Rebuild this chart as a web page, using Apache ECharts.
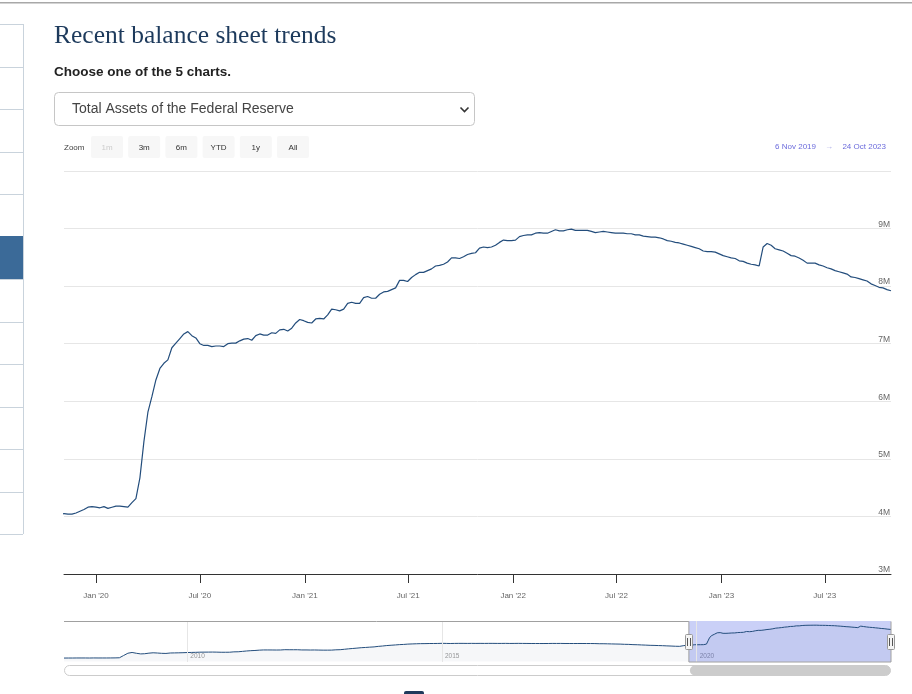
<!DOCTYPE html>
<html>
<head>
<meta charset="utf-8">
<script src="https://cdn.jsdelivr.net/npm/echarts@6/dist/echarts.min.js"></script>
<style>
html, body { margin: 0; padding: 0; background: #fff; }
#chart { width: 912px; height: 694px; }
</style>
</head>
<body>
<div id="chart"></div>
<script>
// Total assets, trillions of dollars (axis shows them as "M" of millions)
// monthly history, first of each month from Aug 2007 to Oct 2019
const historyStart = [2007, 7]
const historyValues = [
    0.87, 0.88, 0.88, 0.89, 0.89,
    0.89, 0.88, 0.90, 0.89, 0.89, 0.89, 0.90, 0.91, 0.94, 1.49, 2.06, 2.25,
    2.05, 1.89, 1.94, 2.08, 2.17, 2.11, 2.04, 2.01, 2.12, 2.14, 2.16, 2.19,
    2.23, 2.26, 2.28, 2.32, 2.33, 2.34, 2.35, 2.33, 2.30, 2.30, 2.31, 2.40,
    2.42, 2.52, 2.61, 2.69, 2.74, 2.82, 2.87, 2.87, 2.86, 2.85, 2.86, 2.93,
    2.92, 2.92, 2.92, 2.87, 2.87, 2.85, 2.86, 2.84, 2.82, 2.82, 2.83, 2.90,
    2.93, 3.04, 3.14, 3.23, 3.32, 3.42, 3.48, 3.56, 3.62, 3.75, 3.84, 3.95,
    4.03, 4.10, 4.18, 4.23, 4.31, 4.35, 4.39, 4.42, 4.43, 4.45, 4.46, 4.47,
    4.50, 4.48, 4.46, 4.48, 4.49, 4.49, 4.48, 4.49, 4.48, 4.49, 4.48, 4.49,
    4.49, 4.48, 4.48, 4.49, 4.47, 4.48, 4.49, 4.48, 4.47, 4.46, 4.46, 4.45,
    4.45, 4.46, 4.48, 4.47, 4.48, 4.46, 4.46, 4.45, 4.46, 4.46, 4.45, 4.45,
    4.44, 4.40, 4.40, 4.38, 4.35, 4.33, 4.31, 4.26, 4.24, 4.18, 4.15, 4.10,
    4.06, 4.01, 3.99, 3.95, 3.92, 3.87, 3.83, 3.78, 3.76, 3.94
]
// weekly (Wednesday) values from 6 Nov 2019
const weeklyStart = [2019, 10, 6]
const weeklyValues = [
    // 2019
    4.05, 4.04, 4.04, 4.06, 4.09, 4.12, 4.16, 4.17,
    // 2020
    4.16, 4.15, 4.17, 4.14, 4.16, 4.18, 4.18, 4.17, 4.16, 4.24, 4.31, 4.67, 5.30,
    5.81, 6.08, 6.37, 6.57, 6.66, 6.72, 6.93, 7.01, 7.09, 7.17, 7.21, 7.14, 7.10,
    7.00, 6.97, 6.97, 6.95, 6.96, 6.96, 6.95, 7.00, 7.01, 7.01, 7.05, 7.08, 7.09,
    7.06, 7.14, 7.17, 7.15, 7.15, 7.19, 7.18, 7.24, 7.25, 7.22, 7.27, 7.36, 7.42, 7.40,
    // 2021
    7.37, 7.36, 7.43, 7.44, 7.43, 7.50, 7.60, 7.59, 7.57, 7.60, 7.70, 7.72, 7.70,
    7.70, 7.80, 7.82, 7.79, 7.79, 7.86, 7.90, 7.91, 7.94, 7.97, 8.10, 8.10, 8.08,
    8.15, 8.20, 8.24, 8.24, 8.27, 8.30, 8.35, 8.36, 8.38, 8.42, 8.49, 8.49, 8.48,
    8.51, 8.55, 8.57, 8.58, 8.66, 8.68, 8.67, 8.68, 8.71, 8.76, 8.80, 8.79, 8.79,
    // 2022
    8.80, 8.86, 8.88, 8.89, 8.89, 8.92, 8.93, 8.92, 8.92, 8.95, 8.98, 8.96, 8.96,
    8.98, 8.99, 8.97, 8.97, 8.97, 8.97, 8.95, 8.93, 8.94, 8.95, 8.94, 8.93, 8.92,
    8.92, 8.92, 8.91, 8.91, 8.89, 8.89, 8.87, 8.86, 8.85, 8.85, 8.84, 8.82, 8.79,
    8.78, 8.76, 8.75, 8.73, 8.71, 8.69, 8.67, 8.65, 8.61, 8.60, 8.60, 8.59, 8.56,
    // 2023
    8.53, 8.51, 8.49, 8.48, 8.44, 8.43, 8.40, 8.38, 8.37, 8.35, 8.68, 8.74, 8.71,
    8.65, 8.63, 8.61, 8.57, 8.53, 8.52, 8.49, 8.45, 8.40, 8.40, 8.40, 8.37, 8.35,
    8.32, 8.30, 8.27, 8.25, 8.23, 8.21, 8.16, 8.15, 8.13, 8.11, 8.09, 8.04, 8.01,
    7.98, 7.97, 7.94, 7.92
]

const zoomFrom = '2019-11-06'
const zoomTo = '2023-10-25'
const tickDates = ['2020-01-01', '2020-07-01', '2021-01-01', '2021-07-01', '2022-01-01', '2022-07-01', '2023-01-01', '2023-07-01']
const tickLabels = ["Jan '20", "Jul '20", "Jan '21", "Jul '21", "Jan '22", "Jul '22", "Jan '23", "Jul '23"]
const navYearDates = ['2010-01-01', '2015-01-01', '2020-01-01']
const navYearLabels = ['2010', '2015', '2020']
const rangeButtons = ['1m', '3m', '6m', 'YTD', '1y', 'All']
const rangeText = ['6 Nov 2019', '24 Oct 2023']
const sideLines = [24, 67, 109, 152, 194, 279, 322, 364, 407, 449, 492, 534]

const LINE = '#234d7c'
const FONT = '"Liberation Sans", Arial, sans-serif'

function ts(s) {
    const [y, m, d] = s.split('-').map(Number)
    return new Date(y, m - 1, d).getTime()
}

const seriesData = []
historyValues.forEach((v, i) => seriesData.push([new Date(historyStart[0], historyStart[1] + i, 1).getTime(), v]))
weeklyValues.forEach((v, i) => seriesData.push([new Date(weeklyStart[0], weeklyStart[1], weeklyStart[2] + 7 * i).getTime(), v]))

const tickTs = tickDates.map(ts)
const navTs = navYearDates.map(ts)

function txt(text, x, y, size, fill, opts = {}) {
    return {
        type: 'text', silent: true, z: 10,
        style: {
            text, x, y, fill,
            font: `${opts.weight || 'normal'} ${size}px ${opts.family || FONT}`,
            textAlign: opts.align || 'left', align: opts.align || 'left',
            textVerticalAlign: 'middle', verticalAlign: 'middle'
        }
    }
}

const chart = echarts.init(document.getElementById('chart'))

chart.setOption({
    animation: false,
    grid: [
        { left: 64, right: 21, top: 171, height: 403, outerBoundsMode: 'none', containLabel: false },
        { left: 64, right: 21, top: 621, height: 41, outerBoundsMode: 'none', containLabel: false }
    ],
    xAxis: [
        {
            // time values in ms on a value axis so the Jan/Jul ticks can be placed exactly
            type: 'value', gridIndex: 0, min: ts(zoomFrom), max: ts(zoomTo),
            axisLine: { lineStyle: { color: '#333', width: 1 } },
            axisTick: { show: true, length: 9, customValues: tickTs, lineStyle: { color: '#333' } },
            axisLabel: {
                customValues: tickTs, margin: 18, fontSize: 8, color: '#666', fontFamily: FONT,
                formatter: v => tickLabels[tickTs.indexOf(v)] || ''
            },
            splitLine: { show: false }
        },
        {
            type: 'value', gridIndex: 1, min: seriesData[0][0], max: ts(zoomTo),
            axisLine: { show: false },
            axisTick: { show: false },
            axisLabel: {
                customValues: navTs, inside: true, margin: 2, fontSize: 6.5, color: '#999', fontFamily: FONT,
                align: 'left', padding: [0, 0, 0, 3], verticalAlign: 'bottom',
                formatter: v => navYearLabels[navTs.indexOf(v)] || ''
            },
            splitLine: { show: false }
        }
    ],
    yAxis: [
        {
            type: 'value', gridIndex: 0, position: 'right', min: 3, max: 10, interval: 1,
            axisLine: { show: false }, axisTick: { show: false },
            axisLabel: {
                inside: true, margin: 1, fontSize: 8.5, lineHeight: 8, color: '#666', fontFamily: FONT,
                verticalAlign: 'bottom', showMaxLabel: false,
                formatter: v => v + 'M'
            },
            splitLine: { lineStyle: { color: '#e6e6e6', width: 1 } }
        },
        {
            type: 'value', gridIndex: 1, min: -0.1, max: 10, show: false,
            splitLine: { show: false }
        }
    ],
    series: [
        {
            type: 'line', xAxisIndex: 0, yAxisIndex: 0, data: seriesData,
            showSymbol: false, clip: true, silent: true,
            lineStyle: { color: LINE, width: 1.2 }, itemStyle: { color: LINE }
        },
        {
            type: 'line', xAxisIndex: 1, yAxisIndex: 1, data: seriesData,
            showSymbol: false, silent: true,
            lineStyle: { color: LINE, width: 1 }, itemStyle: { color: LINE },
            areaStyle: { color: 'rgba(35,77,124,0.06)' },
            markLine: {
                silent: true, symbol: 'none', label: { show: false },
                lineStyle: { color: '#e6e6e6', width: 1, type: 'solid' },
                data: navTs.map(t => ({ xAxis: t }))
            },
            markArea: {
                silent: true, itemStyle: { color: 'rgba(60,80,225,0.27)' },
                data: [[{ xAxis: ts(zoomFrom) }, { xAxis: ts(zoomTo) }]]
            }
        }
    ]
})

// navigator handles, outline and scrollbar follow the navigator axis
const navTop = 621, navBottom = 662
const selX0 = chart.convertToPixel({ gridIndex: 1 }, [ts(zoomFrom), 0])[0]
const selX1 = chart.convertToPixel({ gridIndex: 1 }, [ts(zoomTo), 0])[0]
const navX0 = chart.convertToPixel({ gridIndex: 1 }, [seriesData[0][0], 0])[0]

const graphic = []

// top rule of page
graphic.push({ type: 'rect', silent: true, shape: { x: 0, y: 2, width: 912, height: 1.5 }, style: { fill: '#a8a8a8' } })

// left side menu
graphic.push({ type: 'rect', silent: true, shape: { x: 0, y: 236, width: 23, height: 43 }, style: { fill: '#3b6a98' } })
sideLines.forEach(y => graphic.push({
    type: 'line', silent: true, shape: { x1: 0, y1: y + 0.5, x2: 23, y2: y + 0.5 }, style: { stroke: '#c9d3dc', lineWidth: 1 }
}))
graphic.push({ type: 'line', silent: true, shape: { x1: 23.5, y1: 24, x2: 23.5, y2: 534 }, style: { stroke: '#c9d3dc', lineWidth: 1 } })

// heading and chooser
graphic.push(txt('Recent balance sheet trends', 54, 36, 25.5, '#1d3a5c', { family: '"Liberation Serif", "Times New Roman", serif' }))
graphic.push(txt('Choose one of the 5 charts.', 54, 72, 13.5, '#222', { weight: 'bold' }))
graphic.push({
    type: 'rect', silent: true, shape: { x: 54.5, y: 92.5, width: 420, height: 33, r: 4 },
    style: { fill: '#fff', stroke: '#c6c6c6', lineWidth: 1 }
})
graphic.push(txt('Total Assets of the Federal Reserve', 72, 109, 14, '#444'))
graphic.push({
    type: 'polyline', silent: true, shape: { points: [[460.5, 107.5], [464.5, 111.5], [468.5, 107.5]] },
    style: { stroke: '#333', lineWidth: 1.6, fill: null }
})

// range selector buttons
graphic.push(txt('Zoom', 64, 148, 8, '#444'))
rangeButtons.forEach((label, i) => {
    const x = 91 + i * 37.2
    graphic.push({ type: 'rect', silent: true, shape: { x, y: 136, width: 32, height: 22, r: 2 }, style: { fill: '#f7f7f7' } })
    graphic.push(txt(label, x + 16, 148, 8, i === 0 ? '#cccccc' : '#333', { align: 'center' }))
})
graphic.push(txt(rangeText[0], 816, 147, 8, '#6b6bdc', { align: 'right' }))
graphic.push(txt('\u2192', 829, 147, 8, '#a9a9e6', { align: 'center' }))
graphic.push(txt(rangeText[1], 886, 147, 8, '#6b6bdc', { align: 'right' }))

// navigator outline
graphic.push({
    type: 'polyline', silent: true, z: 5,
    shape: { points: [[navX0, navTop + 0.5], [selX0, navTop + 0.5], [selX0, navBottom], [selX1, navBottom], [selX1, navTop + 0.5]] },
    style: { stroke: '#a0a0a0', lineWidth: 1, fill: null }
})
// handles
;[selX0, selX1].forEach(x => {
    graphic.push({
        type: 'rect', silent: true, z: 6, shape: { x: Math.round(x) - 3.5, y: 634.5, width: 7, height: 15, r: 1 },
        style: { fill: '#f4f4f4', stroke: '#999', lineWidth: 1 }
    })
    graphic.push({ type: 'line', silent: true, z: 7, shape: { x1: Math.round(x) - 1.5, y1: 638, x2: Math.round(x) - 1.5, y2: 646 }, style: { stroke: '#555', lineWidth: 1 } })
    graphic.push({ type: 'line', silent: true, z: 7, shape: { x1: Math.round(x) + 1.5, y1: 638, x2: Math.round(x) + 1.5, y2: 646 }, style: { stroke: '#555', lineWidth: 1 } })
})
// scrollbar
graphic.push({
    type: 'rect', silent: true, shape: { x: navX0 + 0.5, y: 665.5, width: selX1 - navX0 - 1, height: 10, r: 5 },
    style: { fill: '#fff', stroke: '#cccccc', lineWidth: 1 }
})
graphic.push({
    type: 'rect', silent: true, shape: { x: selX0 + 1, y: 665.5, width: selX1 - selX0 - 1.5, height: 10, r: 5 },
    style: { fill: '#cccccc' }
})

// bottom legend marker peeking into view
graphic.push({ type: 'rect', silent: true, shape: { x: 404, y: 691, width: 20, height: 6, r: 2 }, style: { fill: '#1f3a5c' } })

chart.setOption({ graphic })
</script>
</body>
</html>
